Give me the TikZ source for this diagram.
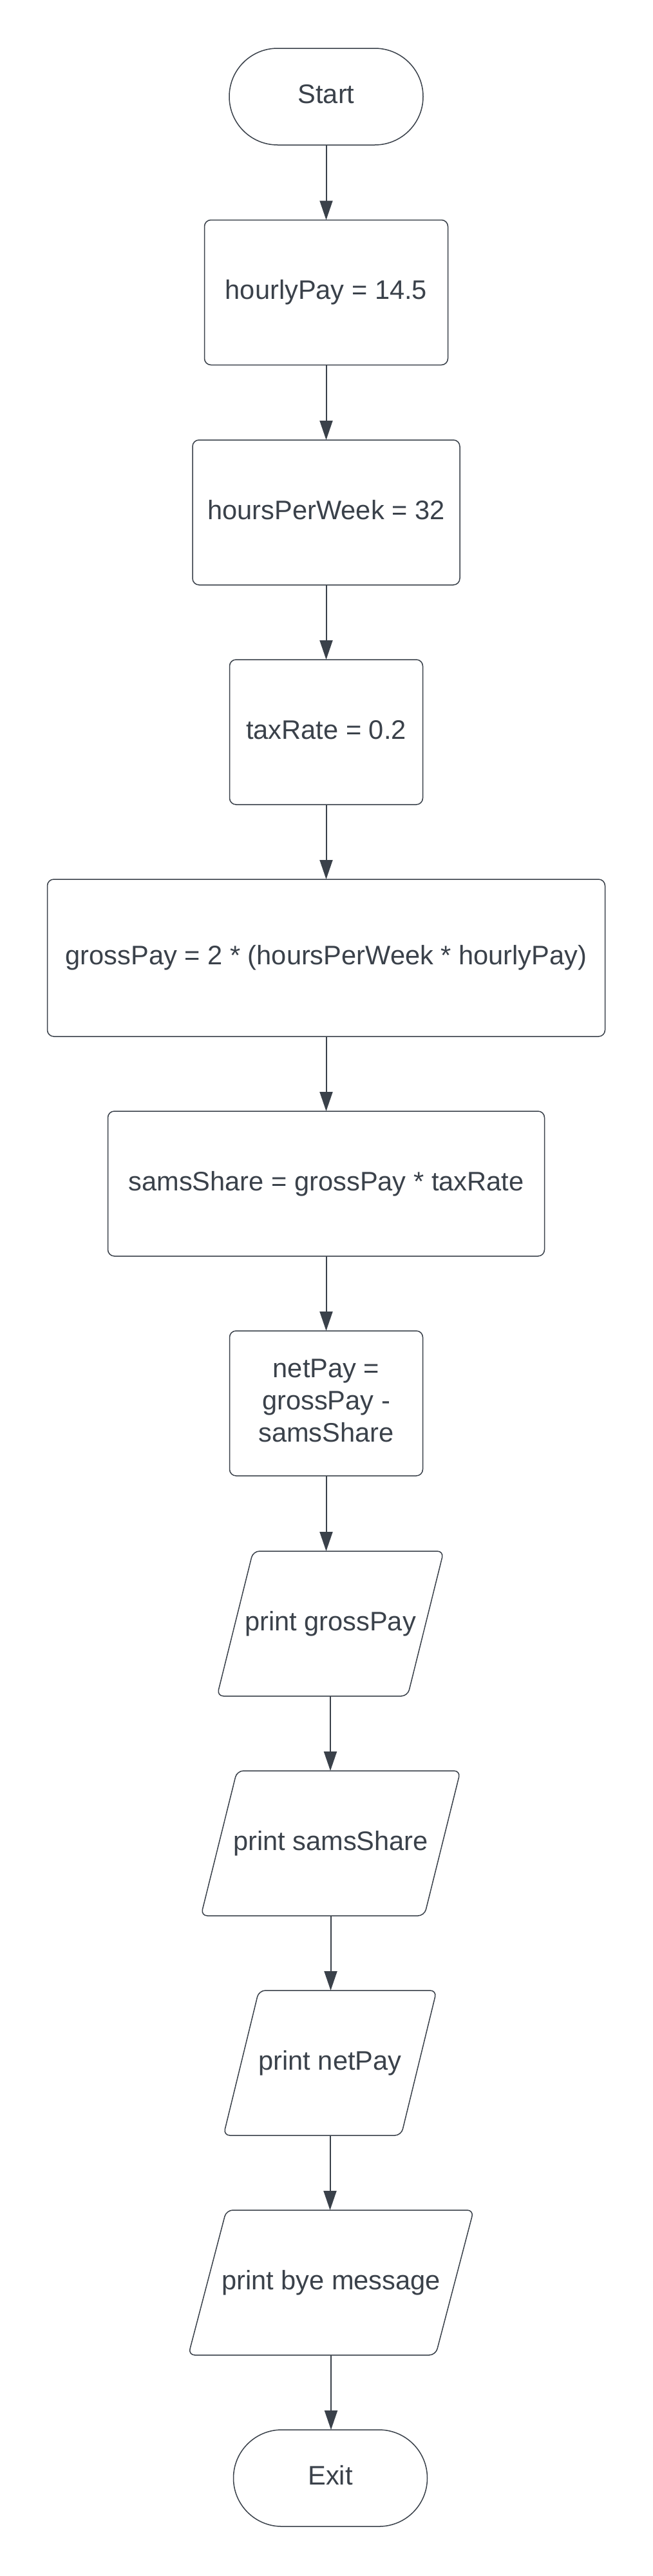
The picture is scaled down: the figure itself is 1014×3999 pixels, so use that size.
\documentclass[tikz,border=0pt]{standalone}
\usepackage{fontspec}
\setmainfont{Liberation Sans}
\usetikzlibrary{arrows.meta}
\definecolor{ink}{HTML}{3A414A}
\begin{document}
\begin{tikzpicture}[x=1pt,y=-1pt,
  every node/.style={font=\fontsize{41.6}{50}\selectfont, text=ink, inner sep=0pt, outer sep=0pt},
  oneline/.style={text height=30pt, text depth=8.6pt},
  proc/.style={draw=ink, line width=1.5pt, rounded corners=10pt, minimum height=225pt},
  term/.style={draw=ink, line width=1.5pt, rounded corners=75pt, minimum width=301pt, minimum height=150pt},
  iobox/.style={minimum height=225pt},
  io/.style={draw=ink, line width=1.5pt, rounded corners=10pt},
  flow/.style={draw=ink, line width=2pt, -{Triangle[length=30pt,width=20pt]}}
]
\fill[white] (0,0) rectangle (1014,3999);
\useasboundingbox (0,0) rectangle (1014,3999);

\node[term,oneline] (start) at (506.5,150) {Start};
\node[proc,oneline,minimum width=378pt] (hp) at (506.5,454) {hourlyPay = 14.5};
\node[proc,oneline,minimum width=415pt] (hw) at (506.5,795.5) {hoursPerWeek = 32};
\node[proc,oneline,minimum width=300pt] (tr) at (506.5,1136.5) {taxRate = 0.2};
\node[proc,oneline,minimum width=866pt,minimum height=244pt] (gp) at (506.5,1487) {grossPay = 2 * (hoursPerWeek * hourlyPay)};
\node[proc,oneline,minimum width=678pt] (ss) at (506.5,1837.5) {samsShare = grossPay * taxRate};
\node[proc,align=center,minimum width=300pt] (np) at (506.5,2178.5) {netPay =\\grossPay -\\samsShare\vphantom{g}};

\node[iobox,oneline,minimum width=296pt] (pg) at (513,2520.5) {print grossPay};
\draw[io] ([xshift=28pt]pg.north west) -- ([xshift=28pt]pg.north east) -- ([xshift=-28pt]pg.south east) -- ([xshift=-28pt]pg.south west) -- cycle;

\node[iobox,oneline,minimum width=347pt] (ps) at (513.5,2861.5) {print samsShare};
\draw[io] ([xshift=28pt]ps.north west) -- ([xshift=28pt]ps.north east) -- ([xshift=-28pt]ps.south east) -- ([xshift=-28pt]ps.south west) -- cycle;

\node[iobox,oneline,minimum width=276pt] (pn) at (512.5,3202.5) {print netPay};
\draw[io] ([xshift=27.5pt]pn.north west) -- ([xshift=27.5pt]pn.north east) -- ([xshift=-27.5pt]pn.south east) -- ([xshift=-27.5pt]pn.south west) -- cycle;

\node[iobox,oneline,minimum width=384pt] (pb) at (514,3543.5) {print bye message};
\draw[io] ([xshift=29.5pt]pb.north west) -- ([xshift=29.5pt]pb.north east) -- ([xshift=-29.5pt]pb.south east) -- ([xshift=-29.5pt]pb.south west) -- cycle;

\node[term,oneline] (exit) at (513,3847) {Exit};

\draw[flow] (start.south) -- (hp.north);
\draw[flow] (hp.south) -- (hw.north);
\draw[flow] (hw.south) -- (tr.north);
\draw[flow] (tr.south) -- (gp.north);
\draw[flow] (gp.south) -- (ss.north);
\draw[flow] (ss.south) -- (np.north);
\draw[flow] (np.south) -- (np.south |- pg.north);
\draw[flow] (pg.south) -- (pg.south |- ps.north);
\draw[flow] (ps.south) -- (ps.south |- pn.north);
\draw[flow] (pn.south) -- (pn.south |- pb.north);
\draw[flow] (pb.south) -- (pb.south |- exit.north);
\end{tikzpicture}
\end{document}
